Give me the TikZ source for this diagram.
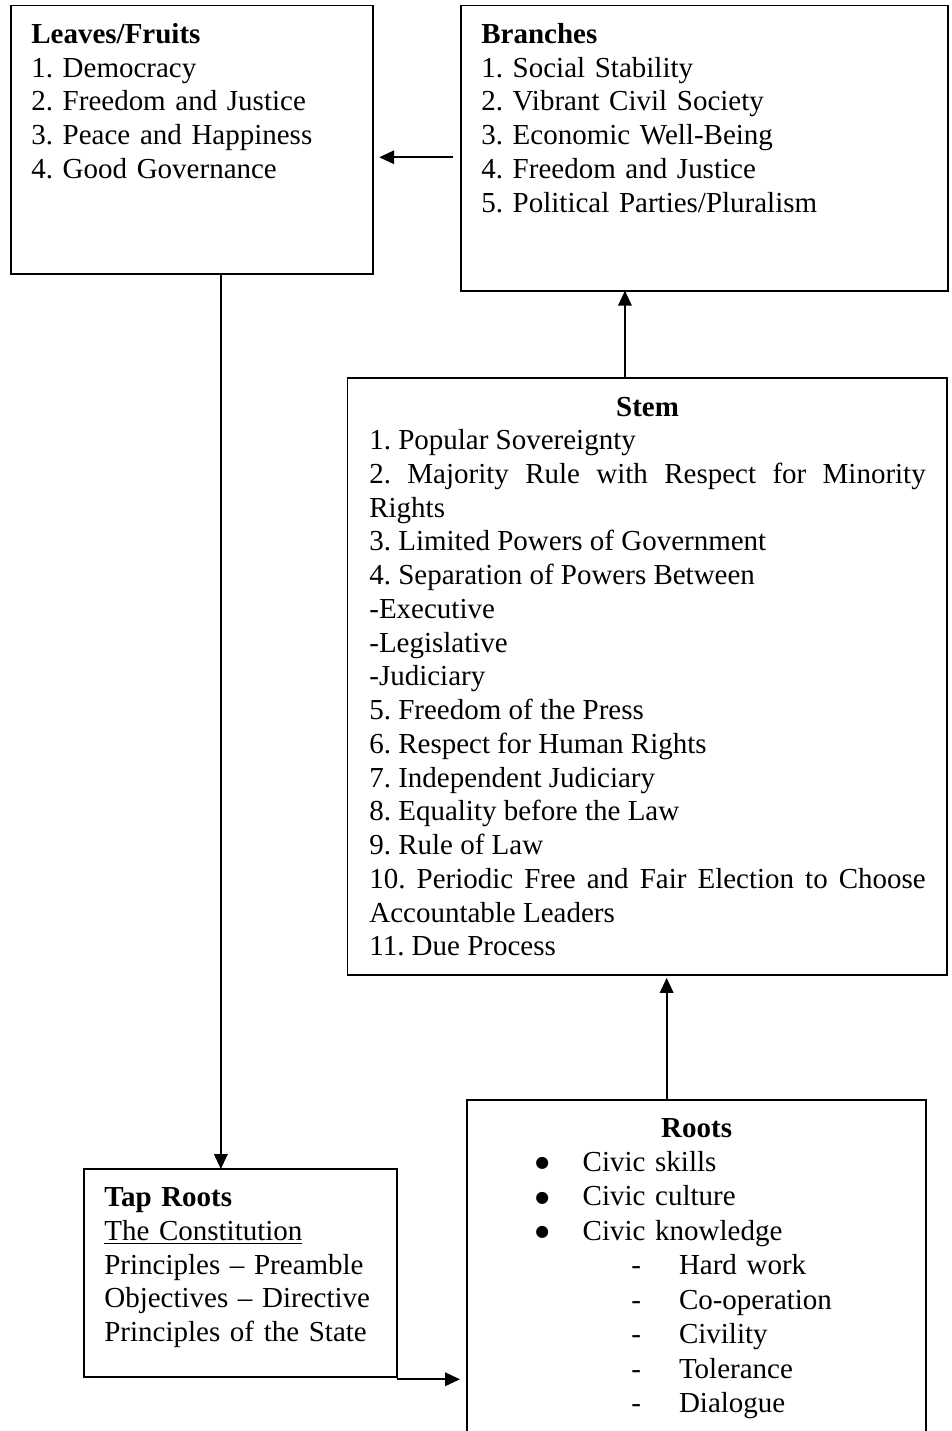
\documentclass[tikz,border=0pt]{standalone}
\usepackage{fontspec}
\setmainfont{Liberation Serif}
\newfontfamily\symfont{DejaVu Sans}
\usepackage{tikz}
\usetikzlibrary{arrows.meta}
\frenchspacing

\newcommand{\rootbullet}{\raisebox{2pt}{\symfont\fontsize{9}{9}\selectfont ●}}

\begin{document}
\begin{tikzpicture}[
    x=0.02cm, y=-0.02cm,
    every node/.style={font=\fontsize{16.5}{19.2}\selectfont},
    box/.style={rectangle, draw, line width=1.1pt, inner sep=0pt, outer sep=0pt, anchor=north west},
    txt/.style={inner sep=0pt, anchor=base west, align=left},
    arrow/.style={-{Triangle[length=0.3cm, width=0.27cm]}, line width=1.1pt}
]
\useasboundingbox[fill=white] (0,0) rectangle (952,1431);

\node[box, minimum width=7.24cm, minimum height=5.374cm] (leaves) at (10.7,5.5) {};
\node[box, minimum width=9.746cm, minimum height=5.704cm] (branches) at (460.7,5.5) {};
\node[box, minimum width=11.984cm, minimum height=11.934cm] (stem) at (347.5,378.3) {};
\node[box, minimum width=6.248cm, minimum height=4.154cm] (taproots) at (84.3,1169) {};
\node[box, minimum width=9.186cm, minimum height=7.2cm] (roots) at (466.7,1100) {};

\node[txt, text width=6.6cm] (leavestxt) at ([xshift=0.406cm, yshift=-0.76cm]leaves.north west)
    {\textbf{Leaves/Fruits}\\1. Democracy\\2. Freedom and Justice\\3. Peace and Happiness\\4. Good Governance};
\node[txt, text width=9cm] (branchestxt) at ([xshift=0.406cm, yshift=-0.76cm]branches.north west)
    {\textbf{Branches}\\1. Social Stability\\2. Vibrant Civil Society\\3. Economic Well-Being\\4. Freedom and Justice\\5. Political Parties/Pluralism};
\node[txt, text width=11.13cm, align=justify] (stemtxt) at ([xshift=0.43cm, yshift=-0.754cm]stem.north west)
    {\makebox[\linewidth]{\textbf{Stem}}\par
    1. Popular Sovereignty\par
    2. Majority Rule with Respect for Minority\linebreak Rights\par
    3. Limited Powers of Government\par
    4. Separation of Powers Between\par
    -Executive\par
    -Legislative\par
    -Judiciary\par
    5. Freedom of the Press\par
    6. Respect for Human Rights\par
    7. Independent Judiciary\par
    8. Equality before the Law\par
    9. Rule of Law\par
    10. Periodic Free and Fair Election to Choose\linebreak Accountable Leaders\par
    11. Due Process};
\node[txt, text width=5.6cm] (taptxt) at ([xshift=0.394cm, yshift=-0.754cm]taproots.north west)
    {\textbf{Tap Roots}\\\underline{The Constitution}\\Principles – Preamble\\Objectives – Directive\\Principles of the State};
\node[txt, text width=6.654cm, font=\fontsize{16.5}{19.6}\selectfont] (rootstxt) at ([xshift=1.266cm, yshift=-0.74cm]roots.north west)
    {\makebox[\linewidth]{\textbf{Roots}}\\
    \hspace*{0.1cm}\makebox[0.948cm][l]{\rootbullet}Civic skills\\
    \hspace*{0.1cm}\makebox[0.948cm][l]{\rootbullet}Civic culture\\
    \hspace*{0.1cm}\makebox[0.948cm][l]{\rootbullet}Civic knowledge\\
    \hspace*{2.02cm}\makebox[0.954cm][l]{-}Hard work\\
    \hspace*{2.02cm}\makebox[0.954cm][l]{-}Co-operation\\
    \hspace*{2.02cm}\makebox[0.954cm][l]{-}Civility\\
    \hspace*{2.02cm}\makebox[0.954cm][l]{-}Tolerance\\
    \hspace*{2.02cm}\makebox[0.954cm][l]{-}Dialogue};

\draw[arrow, shorten <=0.148cm, shorten >=0.132cm] ([yshift=-0.184cm]branches.west) -- ([yshift=-0.184cm]branches.west -| leaves.east);
\draw[arrow] ([xshift=0.584cm]leaves.south) -- ([xshift=0.584cm]leaves.south |- taproots.north);
\draw[arrow] ([xshift=-0.442cm]stem.north) -- ([xshift=-0.442cm]stem.north |- branches.south);
\draw[arrow, shorten >=0.06cm] ([xshift=-0.593cm]roots.north) -- ([xshift=-0.593cm]roots.north |- stem.south);
\draw[arrow, shorten >=0.134cm] ([yshift=-0.052cm]taproots.south east) -- ([yshift=-0.052cm]taproots.south east -| roots.west);

\end{tikzpicture}
\end{document}
